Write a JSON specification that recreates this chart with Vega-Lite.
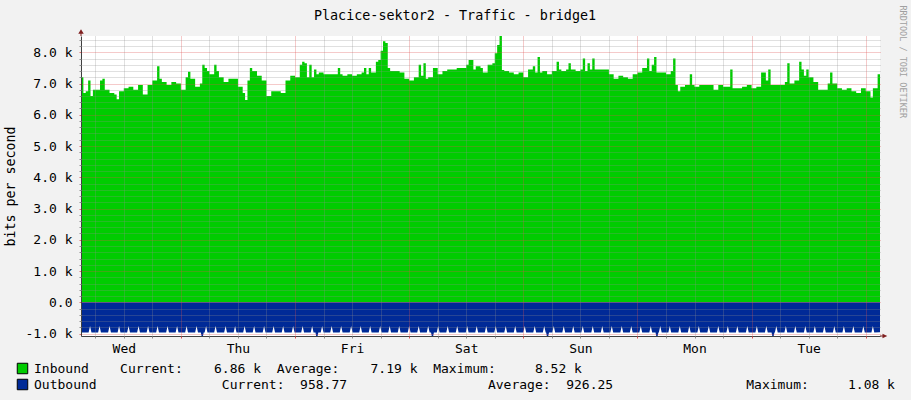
{
"$schema":"https://vega.github.io/schema/vega-lite/v6.json",
"width":799,"height":300,
"autosize":{"type":"none"},
"padding":{"left":81,"top":36,"right":31,"bottom":64},
"background":"#f2f2f2",
"config":{"view":{"fill":"#ffffff","stroke":null},"font":"DejaVu Sans Mono",
"axis":{"labelFont":"DejaVu Sans Mono","titleFont":"DejaVu Sans Mono","labelColor":"#000","titleColor":"#000","labelFontSize":13}},
"title":{"text":"Placice-sektor2 - Traffic - bridge1","font":"DejaVu Sans Mono","fontSize":13.4,"fontWeight":"normal","color":"#000","anchor":"middle","dx":-25.5,"offset":-28,"baseline":"alphabetic"},
"datasets":{
"inb":[{"h":0,"v":7.2},{"h":0.5,"v":6.7},{"h":1,"v":6.75},{"h":1.5,"v":7.1},{"h":2,"v":6.6},{"h":2.5,"v":6.8},{"h":3,"v":6.8},{"h":4,"v":7.1},{"h":4.5,"v":7.15},{"h":5,"v":6.8},{"h":6,"v":6.7},{"h":7,"v":6.65},{"h":7.5,"v":6.5},{"h":8,"v":6.75},{"h":9,"v":6.85},{"h":10,"v":6.9},{"h":11,"v":6.8},{"h":12,"v":6.95},{"h":13,"v":6.65},{"h":14,"v":6.95},{"h":15,"v":7.1},{"h":16,"v":7.55},{"h":16.5,"v":7.15},{"h":17,"v":7.05},{"h":18,"v":6.95},{"h":19,"v":7.05},{"h":20,"v":7.0},{"h":21,"v":6.8},{"h":22,"v":7.2},{"h":22.5,"v":7.38},{"h":23,"v":7.15},{"h":24,"v":6.9},{"h":25,"v":7.0},{"h":25.5,"v":7.6},{"h":26,"v":7.5},{"h":26.5,"v":7.4},{"h":27,"v":7.3},{"h":28,"v":7.6},{"h":28.5,"v":7.4},{"h":29,"v":7.2},{"h":30,"v":7.05},{"h":31,"v":7.15},{"h":32,"v":7.15},{"h":33,"v":6.9},{"h":34,"v":6.7},{"h":34.5,"v":6.47},{"h":35,"v":7.1},{"h":35.5,"v":7.5},{"h":36,"v":7.4},{"h":37,"v":7.25},{"h":38,"v":7.1},{"h":39,"v":6.6},{"h":40,"v":6.75},{"h":41,"v":6.75},{"h":42,"v":6.7},{"h":43,"v":7.1},{"h":44,"v":7.25},{"h":45,"v":7.2},{"h":46,"v":7.6},{"h":46.5,"v":7.7},{"h":47,"v":7.65},{"h":47.5,"v":7.2},{"h":48,"v":7.6},{"h":48.5,"v":7.2},{"h":49,"v":7.45},{"h":49.5,"v":7.3},{"h":50,"v":7.35},{"h":51,"v":7.3},{"h":52,"v":7.3},{"h":53,"v":7.3},{"h":54,"v":7.5},{"h":54.5,"v":7.3},{"h":55,"v":7.25},{"h":56,"v":7.3},{"h":57,"v":7.25},{"h":58,"v":7.3},{"h":59,"v":7.35},{"h":59.5,"v":7.5},{"h":60,"v":7.3},{"h":60.5,"v":7.5},{"h":61,"v":7.35},{"h":62,"v":7.7},{"h":62.5,"v":7.75},{"h":63,"v":8.05},{"h":63.5,"v":8.35},{"h":64,"v":8.3},{"h":64.5,"v":7.5},{"h":65,"v":7.4},{"h":66,"v":7.4},{"h":67,"v":7.35},{"h":68,"v":7.15},{"h":69,"v":7.1},{"h":70,"v":7.2},{"h":71,"v":7.6},{"h":71.5,"v":7.25},{"h":72,"v":7.65},{"h":72.5,"v":7.15},{"h":73,"v":7.2},{"h":74,"v":7.5},{"h":75,"v":7.3},{"h":76,"v":7.4},{"h":77,"v":7.45},{"h":78,"v":7.45},{"h":79,"v":7.5},{"h":80,"v":7.5},{"h":81,"v":7.6},{"h":81.5,"v":7.75},{"h":82,"v":7.75},{"h":82.5,"v":7.45},{"h":83,"v":7.55},{"h":84,"v":7.5},{"h":84.5,"v":7.35},{"h":85,"v":7.35},{"h":85.5,"v":7.6},{"h":86,"v":7.6},{"h":86.5,"v":7.65},{"h":87,"v":7.97},{"h":87.5,"v":8.23},{"h":88,"v":8.52},{"h":88.5,"v":7.43},{"h":89,"v":7.4},{"h":90,"v":7.35},{"h":91,"v":7.3},{"h":92,"v":7.35},{"h":93,"v":7.2},{"h":94,"v":7.45},{"h":95,"v":7.55},{"h":95.5,"v":7.35},{"h":96,"v":7.85},{"h":96.5,"v":7.35},{"h":97,"v":7.4},{"h":98,"v":7.3},{"h":99,"v":7.4},{"h":100,"v":7.7},{"h":100.5,"v":7.45},{"h":101,"v":7.4},{"h":102,"v":7.45},{"h":102.5,"v":7.65},{"h":103,"v":7.45},{"h":104,"v":7.4},{"h":105,"v":7.45},{"h":105.5,"v":7.8},{"h":106,"v":7.4},{"h":106.5,"v":7.65},{"h":107,"v":7.45},{"h":107.5,"v":7.8},{"h":108,"v":7.45},{"h":109,"v":7.45},{"h":110,"v":7.45},{"h":111,"v":7.3},{"h":112,"v":7.15},{"h":113,"v":7.25},{"h":114,"v":7.2},{"h":115,"v":7.15},{"h":116,"v":7.3},{"h":117,"v":7.35},{"h":118,"v":7.5},{"h":119,"v":7.8},{"h":119.5,"v":7.4},{"h":120,"v":7.6},{"h":120.5,"v":7.85},{"h":121,"v":7.35},{"h":122,"v":7.35},{"h":123,"v":7.3},{"h":124,"v":7.4},{"h":124.5,"v":7.8},{"h":125,"v":6.95},{"h":125.5,"v":6.75},{"h":126,"v":6.9},{"h":127,"v":6.95},{"h":128,"v":7.3},{"h":128.5,"v":6.95},{"h":129,"v":6.9},{"h":130,"v":6.95},{"h":131,"v":6.95},{"h":132,"v":6.95},{"h":133,"v":6.8},{"h":134,"v":6.95},{"h":135,"v":6.9},{"h":136,"v":6.9},{"h":136.5,"v":7.45},{"h":137,"v":6.85},{"h":138,"v":6.85},{"h":139,"v":6.9},{"h":140,"v":6.95},{"h":141,"v":6.85},{"h":142,"v":6.9},{"h":143,"v":7.35},{"h":144,"v":7.1},{"h":144.5,"v":7.45},{"h":145,"v":6.95},{"h":146,"v":6.95},{"h":147,"v":6.95},{"h":148,"v":7.05},{"h":148.5,"v":7.65},{"h":149,"v":7.0},{"h":150,"v":7.1},{"h":151,"v":7.7},{"h":151.5,"v":7.45},{"h":152,"v":7.25},{"h":152.5,"v":7.45},{"h":153,"v":7.2},{"h":154,"v":7.05},{"h":155,"v":6.8},{"h":156,"v":6.8},{"h":157,"v":7.0},{"h":157.5,"v":7.35},{"h":158,"v":7.0},{"h":159,"v":6.85},{"h":160,"v":6.8},{"h":161,"v":6.85},{"h":162,"v":6.75},{"h":163,"v":6.7},{"h":164,"v":6.85},{"h":165,"v":6.75},{"h":166,"v":6.55},{"h":166.5,"v":6.85},{"h":167,"v":6.85},{"h":167.5,"v":7.3},{"h":168,"v":6.86}],
"outb":[{"h":0,"o":-0.97},
{"h":1.6,"o":-0.97},{"h":1.9,"o":-0.76},{"h":2.2,"o":-0.97},
{"h":3.6,"o":-0.97},{"h":3.9,"o":-0.76},{"h":4.2,"o":-0.97},
{"h":5.7,"o":-0.97},{"h":6.0,"o":-0.76},{"h":6.3,"o":-0.97},
{"h":7.7,"o":-0.97},{"h":8.0,"o":-0.76},{"h":8.3,"o":-0.97},
{"h":9.7,"o":-0.97},{"h":10.0,"o":-0.76},{"h":10.3,"o":-0.97},
{"h":11.8,"o":-0.97},{"h":12.1,"o":-0.76},{"h":12.4,"o":-0.97},
{"h":13.8,"o":-0.97},{"h":14.1,"o":-0.76},{"h":14.4,"o":-0.97},
{"h":15.8,"o":-0.97},{"h":16.1,"o":-0.76},{"h":16.4,"o":-0.97},
{"h":17.9,"o":-0.97},{"h":18.2,"o":-0.76},{"h":18.5,"o":-0.97},
{"h":19.9,"o":-0.97},{"h":20.2,"o":-0.76},{"h":20.5,"o":-0.97},
{"h":21.9,"o":-0.97},{"h":22.2,"o":-0.76},{"h":22.5,"o":-0.97},
{"h":24.0,"o":-0.97},{"h":24.3,"o":-0.76},{"h":24.6,"o":-0.97},
{"h":25.2,"o":-0.97},{"h":25.35,"o":-1.08},{"h":25.65,"o":-1.08},{"h":25.8,"o":-0.97},
{"h":26.0,"o":-0.97},{"h":26.3,"o":-0.76},{"h":26.6,"o":-0.97},
{"h":28.0,"o":-0.97},{"h":28.3,"o":-0.76},{"h":28.6,"o":-0.97},
{"h":30.1,"o":-0.97},{"h":30.4,"o":-0.76},{"h":30.7,"o":-0.97},
{"h":32.1,"o":-0.97},{"h":32.4,"o":-0.76},{"h":32.7,"o":-0.97},
{"h":34.1,"o":-0.97},{"h":34.4,"o":-0.76},{"h":34.7,"o":-0.97},
{"h":36.1,"o":-0.97},{"h":36.4,"o":-0.76},{"h":36.7,"o":-0.97},
{"h":38.2,"o":-0.97},{"h":38.5,"o":-0.76},{"h":38.8,"o":-0.97},
{"h":40.2,"o":-0.97},{"h":40.5,"o":-0.76},{"h":40.8,"o":-0.97},
{"h":42.2,"o":-0.97},{"h":42.5,"o":-0.76},{"h":42.8,"o":-0.97},
{"h":44.3,"o":-0.97},{"h":44.6,"o":-0.76},{"h":44.9,"o":-0.97},
{"h":46.3,"o":-0.97},{"h":46.6,"o":-0.76},{"h":46.9,"o":-0.97},
{"h":48.3,"o":-0.97},{"h":48.6,"o":-0.76},{"h":48.9,"o":-0.97},
{"h":49.3,"o":-0.97},{"h":49.45,"o":-1.08},{"h":49.75,"o":-1.08},{"h":49.9,"o":-0.97},
{"h":50.4,"o":-0.97},{"h":50.7,"o":-0.76},{"h":51.0,"o":-0.97},
{"h":52.4,"o":-0.97},{"h":52.7,"o":-0.76},{"h":53.0,"o":-0.97},
{"h":54.4,"o":-0.97},{"h":54.7,"o":-0.76},{"h":55.0,"o":-0.97},
{"h":56.5,"o":-0.97},{"h":56.8,"o":-0.76},{"h":57.1,"o":-0.97},
{"h":58.5,"o":-0.97},{"h":58.8,"o":-0.76},{"h":59.1,"o":-0.97},
{"h":60.5,"o":-0.97},{"h":60.8,"o":-0.76},{"h":61.1,"o":-0.97},
{"h":62.6,"o":-0.97},{"h":62.9,"o":-0.76},{"h":63.2,"o":-0.97},
{"h":64.6,"o":-0.97},{"h":64.9,"o":-0.76},{"h":65.2,"o":-0.97},
{"h":66.6,"o":-0.97},{"h":66.9,"o":-0.76},{"h":67.2,"o":-0.97},
{"h":68.7,"o":-0.97},{"h":69.0,"o":-0.76},{"h":69.3,"o":-0.97},
{"h":70.7,"o":-0.97},{"h":71.0,"o":-0.76},{"h":71.3,"o":-0.97},
{"h":72.7,"o":-0.97},{"h":73.0,"o":-0.76},{"h":73.3,"o":-0.97},
{"h":73.6,"o":-0.97},{"h":73.75,"o":-1.08},{"h":74.05,"o":-1.08},{"h":74.2,"o":-0.97},
{"h":74.8,"o":-0.97},{"h":75.1,"o":-0.76},{"h":75.4,"o":-0.97},
{"h":76.8,"o":-0.97},{"h":77.1,"o":-0.76},{"h":77.4,"o":-0.97},
{"h":78.8,"o":-0.97},{"h":79.1,"o":-0.76},{"h":79.4,"o":-0.97},
{"h":80.9,"o":-0.97},{"h":81.2,"o":-0.76},{"h":81.5,"o":-0.97},
{"h":82.9,"o":-0.97},{"h":83.2,"o":-0.76},{"h":83.5,"o":-0.97},
{"h":84.9,"o":-0.97},{"h":85.2,"o":-0.76},{"h":85.5,"o":-0.97},
{"h":86.9,"o":-0.97},{"h":87.2,"o":-0.76},{"h":87.5,"o":-0.97},
{"h":89.0,"o":-0.97},{"h":89.3,"o":-0.76},{"h":89.6,"o":-0.97},
{"h":91.0,"o":-0.97},{"h":91.3,"o":-0.76},{"h":91.6,"o":-0.97},
{"h":93.0,"o":-0.97},{"h":93.3,"o":-0.76},{"h":93.6,"o":-0.97},
{"h":95.1,"o":-0.97},{"h":95.4,"o":-0.76},{"h":95.7,"o":-0.97},
{"h":97.1,"o":-0.97},{"h":97.4,"o":-0.76},{"h":97.7,"o":-0.97},
{"h":97.8,"o":-0.97},{"h":97.95,"o":-1.08},{"h":98.25,"o":-1.08},{"h":98.4,"o":-0.97},
{"h":99.1,"o":-0.97},{"h":99.4,"o":-0.76},{"h":99.7,"o":-0.97},
{"h":101.2,"o":-0.97},{"h":101.5,"o":-0.76},{"h":101.8,"o":-0.97},
{"h":103.2,"o":-0.97},{"h":103.5,"o":-0.76},{"h":103.8,"o":-0.97},
{"h":105.2,"o":-0.97},{"h":105.5,"o":-0.76},{"h":105.8,"o":-0.97},
{"h":107.3,"o":-0.97},{"h":107.6,"o":-0.76},{"h":107.9,"o":-0.97},
{"h":109.3,"o":-0.97},{"h":109.6,"o":-0.76},{"h":109.9,"o":-0.97},
{"h":111.3,"o":-0.97},{"h":111.6,"o":-0.76},{"h":111.9,"o":-0.97},
{"h":113.4,"o":-0.97},{"h":113.7,"o":-0.76},{"h":114.0,"o":-0.97},
{"h":115.4,"o":-0.97},{"h":115.7,"o":-0.76},{"h":116.0,"o":-0.97},
{"h":117.4,"o":-0.97},{"h":117.7,"o":-0.76},{"h":118.0,"o":-0.97},
{"h":119.5,"o":-0.97},{"h":119.8,"o":-0.76},{"h":120.1,"o":-0.97},
{"h":120.8,"o":-0.97},{"h":120.95,"o":-1.08},{"h":121.25,"o":-1.08},{"h":121.4,"o":-0.97},
{"h":121.5,"o":-0.97},{"h":121.8,"o":-0.76},{"h":122.1,"o":-0.97},
{"h":123.5,"o":-0.97},{"h":123.8,"o":-0.76},{"h":124.1,"o":-0.97},
{"h":125.6,"o":-0.97},{"h":125.9,"o":-0.76},{"h":126.2,"o":-0.97},
{"h":127.6,"o":-0.97},{"h":127.9,"o":-0.76},{"h":128.2,"o":-0.97},
{"h":129.6,"o":-0.97},{"h":129.9,"o":-0.76},{"h":130.2,"o":-0.97},
{"h":131.7,"o":-0.97},{"h":132.0,"o":-0.76},{"h":132.3,"o":-0.97},
{"h":133.7,"o":-0.97},{"h":134.0,"o":-0.76},{"h":134.3,"o":-0.97},
{"h":135.7,"o":-0.97},{"h":136.0,"o":-0.76},{"h":136.3,"o":-0.97},
{"h":137.7,"o":-0.97},{"h":138.0,"o":-0.76},{"h":138.3,"o":-0.97},
{"h":139.8,"o":-0.97},{"h":140.1,"o":-0.76},{"h":140.4,"o":-0.97},
{"h":141.8,"o":-0.97},{"h":142.1,"o":-0.76},{"h":142.4,"o":-0.97},
{"h":143.8,"o":-0.97},{"h":144.1,"o":-0.76},{"h":144.4,"o":-0.97},
{"h":145.2,"o":-0.97},{"h":145.35,"o":-1.08},{"h":145.65,"o":-1.08},{"h":145.8,"o":-0.97},
{"h":145.9,"o":-0.97},{"h":146.2,"o":-0.76},{"h":146.5,"o":-0.97},
{"h":147.9,"o":-0.97},{"h":148.2,"o":-0.76},{"h":148.5,"o":-0.97},
{"h":149.9,"o":-0.97},{"h":150.2,"o":-0.76},{"h":150.5,"o":-0.97},
{"h":152.0,"o":-0.97},{"h":152.3,"o":-0.76},{"h":152.6,"o":-0.97},
{"h":154.0,"o":-0.97},{"h":154.3,"o":-0.76},{"h":154.6,"o":-0.97},
{"h":156.0,"o":-0.97},{"h":156.3,"o":-0.76},{"h":156.6,"o":-0.97},
{"h":158.1,"o":-0.97},{"h":158.4,"o":-0.76},{"h":158.7,"o":-0.97},
{"h":160.1,"o":-0.97},{"h":160.4,"o":-0.76},{"h":160.7,"o":-0.97},
{"h":162.1,"o":-0.97},{"h":162.4,"o":-0.76},{"h":162.7,"o":-0.97},
{"h":164.2,"o":-0.97},{"h":164.5,"o":-0.76},{"h":164.8,"o":-0.97},
{"h":166.2,"o":-0.97},{"h":166.5,"o":-0.76},{"h":166.8,"o":-0.97},
{"h":168,"o":-0.96}],
"arr":[{"h":0,"v":8.52,"s":"up"},{"h":168,"v":-1.08,"s":"right"}]
},
"layer":[
{"data":{"name":"inb"},
"mark":{"type":"area","interpolate":"step-after","clip":true},
"encoding":{
"x":{"field":"h","type":"quantitative","scale":{"domain":[0,168],"nice":false,"zero":false},
"axis":{"orient":"bottom","values":[9,33,57,81,105,129,153],"labelExpr":"['Wed','Thu','Fri','Sat','Sun','Mon','Tue'][floor(datum.value/24)]","ticks":false,"grid":false,"domain":true,"domainColor":"#404040","title":null,"labelPadding":6,"labelFlush":false,"labelOverlap":false,"zindex":1}},
"y":{"field":"v","type":"quantitative","scale":{"domain":[-1.08,8.52],"nice":false},
"axis":{"orient":"left","values":[-1,0,1,2,3,4,5,6,7,8],"labelExpr":"datum.value == 0 ? '0.0' : (datum.value < 0 ? '-' : '') + format(abs(datum.value), '.1f') + ' k'","grid":true,"gridColor":"#de4f4f","gridOpacity":0.6,"gridDash":[1,1],"tickColor":"#de4f4f","tickOpacity":0.8,"tickSize":2,"domainColor":"#404040","title":"bits per second","titleX":-66.7,"titleY":150,"titleAngle":-90,"titleBaseline":"alphabetic","titleAlign":"center","titleFontSize":13.3,"titleFontWeight":"normal","labelPadding":7,"labelFlush":false,"labelOverlap":false,"zindex":1}},
"y2":{"datum":0},
"color":{"datum":"Inbound","scale":{"domain":["Inbound","Outbound"],"range":["#00cc00","#002a97"]},
"legend":{"orient":"none","legendX":-65,"legendY":326,"direction":"vertical","title":null,"symbolType":"square","symbolSize":110,"symbolStrokeColor":"#000000","symbolStrokeWidth":1,"symbolOpacity":1,"labelFont":"DejaVu Sans Mono","labelFontSize":13,"labelColor":"#000000","labelOffset":5,"rowPadding":1,"labelLimit":2000,"padding":0,
"labelExpr":"datum.label == 'Inbound' ? 'Inbound\u00a0\u00a0\u00a0\u00a0Current:\u00a0\u00a0\u00a0\u00a06.86\u00a0k\u00a0\u00a0Average:\u00a0\u00a0\u00a0\u00a07.19\u00a0k\u00a0\u00a0Maximum:\u00a0\u00a0\u00a0\u00a0\u00a08.52\u00a0k' : 'Outbound\u00a0\u00a0\u00a0\u00a0\u00a0\u00a0\u00a0\u00a0\u00a0\u00a0\u00a0\u00a0\u00a0\u00a0\u00a0\u00a0Current:\u00a0\u00a0958.77\u00a0\u00a0\u00a0\u00a0\u00a0\u00a0\u00a0\u00a0\u00a0\u00a0\u00a0\u00a0\u00a0\u00a0\u00a0\u00a0\u00a0\u00a0Average:\u00a0\u00a0926.25\u00a0\u00a0\u00a0\u00a0\u00a0\u00a0\u00a0\u00a0\u00a0\u00a0\u00a0\u00a0\u00a0\u00a0\u00a0\u00a0\u00a0Maximum:\u00a0\u00a0\u00a0\u00a0\u00a01.08\u00a0k'"}}
}},
{"data":{"name":"outb"},
"mark":{"type":"area","interpolate":"linear","clip":true},
"encoding":{
"x":{"field":"h","type":"quantitative",
"axis":{"orient":"bottom","values":[3,9,15,27,33,39,51,57,63,75,81,87,99,105,111,123,129,135,147,153,159],"labels":false,"domain":false,"grid":true,"gridColor":"#8f8f8f","gridOpacity":0.55,"gridDash":[1,1],"tickColor":"#8f8f8f","tickSize":2,"title":null,"zindex":1}},
"y":{"field":"o","type":"quantitative",
"axis":{"orient":"left","values":[-0.8,-0.6,-0.4,-0.2,0.2,0.4,0.6,0.8,1.2,1.4,1.6,1.8,2.2,2.4,2.6,2.8,3.2,3.4,3.6,3.8,4.2,4.4,4.6,4.8,5.2,5.4,5.6,5.8,6.2,6.4,6.6,6.8,7.2,7.4,7.6,7.8,8.2,8.4],"labels":false,"domain":false,"grid":true,"gridColor":"#8f8f8f","gridOpacity":0.55,"gridDash":[1,1],"tickColor":"#8f8f8f","tickSize":2,"title":null,"zindex":1}},
"y2":{"datum":0},
"color":{"datum":"Outbound"}
}},
{"data":{"name":"arr"},
"mark":{"type":"point","filled":true,"opacity":1,"color":"#7f1f1f","size":100,"strokeWidth":0},
"encoding":{
"x":{"field":"h","type":"quantitative",
"axis":{"orient":"bottom","values":[21,45,69,93,117,141,165],"labels":false,"domain":false,"grid":true,"gridColor":"#de4f4f","gridOpacity":0.6,"gridDash":[1,1],"tickColor":"#de4f4f","tickSize":2,"title":null,"zindex":1}},
"y":{"field":"v","type":"quantitative",
"axis":{"orient":"right","labels":false,"ticks":false,"domain":false,"grid":false,"title":"RRDTOOL / TOBI OETIKER","titleAngle":90,"titleX":22.5,"titleY":-31,"titleAlign":"left","titleBaseline":"middle","titleFontSize":8.5,"titleFontWeight":"normal","titleColor":"#a0a0a0"}},
"shape":{"field":"s","type":"nominal","scale":{"domain":["up","right"],"range":["M-0.55,-0.45L0,-1.35L0.55,-0.45Z M-0.1,0L0.1,0L0.1,-0.45L-0.1,-0.45Z","M0.5,-0.45L1.45,0L0.5,0.45Z M0,-0.1L0.5,-0.1L0.5,0.1L0,0.1Z"]},"legend":null}
}}
],
"resolve":{"axis":{"x":"independent","y":"independent"}}
}
